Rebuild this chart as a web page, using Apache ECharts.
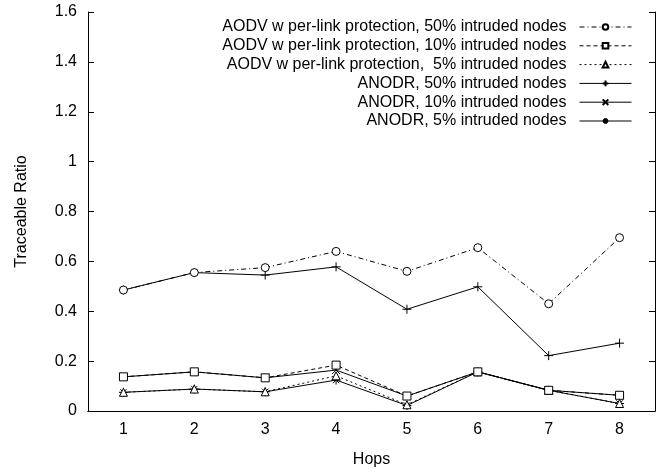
<!DOCTYPE html>
<html><head><meta charset="utf-8">
<script src="https://cdn.jsdelivr.net/npm/echarts@6/dist/echarts.min.js"></script>
<style>html,body{margin:0;padding:0;background:#fff}#c{width:663px;height:474px}</style>
</head><body><div id="c"></div>
<script>
const hops = ['1','2','3','4','5','6','7','8'];
const names = [
  'AODV w per-link protection, 50% intruded nodes',
  'AODV w per-link protection, 10% intruded nodes',
  'AODV w per-link protection,  5% intruded nodes',
  'ANODR, 50% intruded nodes',
  'ANODR, 10% intruded nodes',
  'ANODR, 5% intruded nodes'
];
const aodv50 = [0.485, 0.555, 0.575, 0.640, 0.560, 0.655, 0.430, 0.695];
const aodv10 = [0.137, 0.157, 0.133, 0.184, 0.060, 0.157, 0.083, 0.063];
const aodv5  = [0.075, 0.088, 0.077, 0.141, 0.025, 0.157, 0.083, 0.030];
const anodr50 = [0.485, 0.555, 0.545, 0.578, 0.408, 0.498, 0.222, 0.272];
const anodr10 = [0.137, 0.157, 0.133, 0.164, 0.060, 0.157, 0.083, 0.063];
const anodr5  = [0.075, 0.088, 0.077, 0.124, 0.022, 0.157, 0.083, 0.030];
const yTicks = [0, 0.2, 0.4, 0.6, 0.8, 1, 1.2, 1.4, 1.6];

const FONT = 'Liberation Sans, Arial, sans-serif';
const allData = [aodv50, aodv10, aodv5, anodr50, anodr10, anodr5];
const dashes = [[5,3,1,3], [4,3], [2,3], 'solid', 'solid', 'solid'];
const symbols = [
  'circle',
  'rect',
  'triangle',
  'path://M0,5L10,5M5,0L5,10',
  'path://M0,0L10,10M10,0L0,10',
  'path://M0,5L10,5M5,0L5,10M1.5,1.5L8.5,8.5M8.5,1.5L1.5,8.5'
];
const sizes = [8, 8, 8, 9, 8, 9];

const series = allData.map((d, i) => ({
  name: names[i], type: 'line', data: d,
  symbol: symbols[i], symbolSize: sizes[i],
  lineStyle: {color: '#000', width: 1, type: dashes[i]},
  itemStyle: {color: i < 3 ? '#fff' : 'none', borderColor: '#000', borderWidth: 1},
  emphasis: {disabled: true},
  animation: false, z: 10 - i
}));

const legends = names.map((n, i) => ({
  data: [n], right: 31, top: 19 + i * 18.8, align: 'right', orient: 'vertical',
  itemWidth: 52, itemHeight: 7, itemGap: 0, padding: 0,
  lineStyle: {width: 1},
  textStyle: {fontFamily: FONT, fontSize: 16, color: '#000', padding: [0, 8, 0, 0]},
  selectedMode: false
}));

const chart = echarts.init(document.getElementById('c'), null, {renderer: 'canvas'});
chart.setOption({
  animation: false,
  backgroundColor: '#fff',
  legend: legends,
  grid: {left: 88, right: 8, top: 12, bottom: 63},
  xAxis: [{
    type: 'category', data: hops, boundaryGap: true,
    name: 'Hops', nameLocation: 'middle', nameGap: 41,
    nameTextStyle: {fontFamily: FONT, fontSize: 16, color: '#000'},
    axisLine: {lineStyle: {color: '#000', width: 1}},
    axisTick: {alignWithLabel: true, inside: true, length: 6, lineStyle: {color: '#000'}},
    axisLabel: {fontFamily: FONT, fontSize: 16, color: '#000', margin: 11},
    splitLine: {show: false}
  }, {
    type: 'category', data: hops, boundaryGap: true, position: 'top',
    axisLine: {lineStyle: {color: '#000', width: 1}},
    axisTick: {alignWithLabel: true, inside: true, length: 6, lineStyle: {color: '#000'}},
    axisLabel: {show: false}
  }],
  yAxis: [{
    type: 'value', min: 0, max: 1.6, interval: 0.2,
    name: 'Traceable Ratio', nameLocation: 'middle', nameGap: 58,
    nameTextStyle: {fontFamily: FONT, fontSize: 16, color: '#000'},
    axisLine: {show: true, lineStyle: {color: '#000', width: 1}},
    axisTick: {show: true, inside: true, length: 6, lineStyle: {color: '#000'}},
    axisLabel: {fontFamily: FONT, fontSize: 16, color: '#000', margin: 11,
      formatter: v => { const t = yTicks.find(x => Math.abs(x - v) < 1e-9); return String(t === undefined ? v : t); }},
    splitLine: {show: false}
  }, {
    type: 'value', min: 0, max: 1.6, interval: 0.2, position: 'right',
    axisLine: {show: true, lineStyle: {color: '#000', width: 1}},
    axisTick: {show: true, inside: true, length: 6, lineStyle: {color: '#000'}},
    axisLabel: {show: false}, splitLine: {show: false}
  }],
  series: series
});
</script></body></html>
